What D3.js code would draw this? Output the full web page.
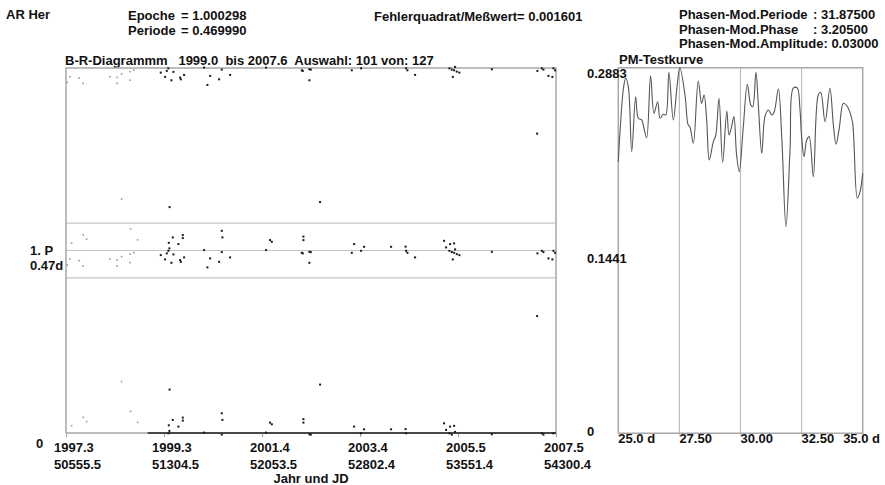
<!DOCTYPE html>
<html><head><meta charset="utf-8">
<script src="https://cdn.jsdelivr.net/npm/d3@7"></script>
<style>
body{margin:0;background:#fff;}
text{font-family:"Liberation Sans",Arial,sans-serif;font-weight:bold;font-size:13px;fill:#111;white-space:pre;}
</style></head><body>
<svg id="c" width="885" height="485"></svg>
<script>
// ---- B-R diagram data (year, O-C in periods) ----
const years=[1997.327,1997.383,1997.419,1997.577,1997.660,1997.660,1997.731,1998.216,1998.368,1998.368,1998.459,1998.632,1998.632,1998.647,1998.715,1998.793,1998.459,
1999.271,1999.361,1999.396,1999.429,1999.450,1999.438,1999.521,1999.534,1999.492,1999.638,1999.729,1999.729,1999.673,1999.688,1999.756,1999.454,
2000.173,2000.298,2000.241,2000.485,2000.541,2000.554,2000.541,2000.714,2001.463,2001.546,2001.582,2002.240,2002.240,2002.227,2002.206,2002.364,2002.364,2002.394,2002.587,
2003.247,2003.295,2003.441,2003.503,2004.065,2004.377,2004.367,2004.405,2004.565,2005.168,2005.210,2005.293,2005.377,2005.279,2005.329,2005.377,2005.397,2005.433,2005.487,2005.350,
2006.162,2007.111,2007.202,2007.236,2007.340,2007.423,2007.444,2007.479,2007.105];
const oc=[-0.0795,-0.0482,0.0395,-0.0559,0.0849,-0.0849,0.0614,-0.0482,-0.0521,-0.0849,-0.0340,-0.0208,-0.0668,0.1178,-0.0121,0.0575,0.2811,
-0.0247,-0.0482,-0.0153,-0.0011,0.0121,0.0427,0.0723,-0.0208,-0.0668,0.0356,0.0849,0.0685,-0.0521,-0.0614,-0.0373,0.2384,
0.0027,-0.0427,-0.0921,-0.0614,0.1085,0.0723,-0.0082,-0.0373,0.0027,0.0575,0.0482,0.0767,0.0575,-0.0153,-0.0121,-0.0066,-0.0668,-0.0082,0.2658,
-0.0121,0.0356,-0.0011,0.0208,0.0208,-0.0011,0.0219,-0.0121,-0.0373,0.0537,0.0175,0.0356,0.0395,-0.0011,-0.0082,-0.0121,0.0066,-0.0192,-0.0247,-0.0482,
-0.0066,-0.0153,-0.0011,-0.0082,-0.0427,-0.0482,-0.0011,-0.0121,-0.3589];
const selStart=1999.0, selEnd=2007.6;
const yearDomain=[1997.3,2007.5];
const xTickYears=["1997.3","1999.3","2001.4","2003.4","2005.5","2007.5"];
const xTickJD=["50555.5","51304.5","52053.5","52802.4","53551.4","54300.4"];
const bandHalf=0.15;
// ---- PM test curve ----
const pmPeriod=[25.00,25.07,25.21,25.30,25.41,25.55,25.71,25.82,25.96,26.02,26.16,26.32,26.46,26.61,26.71,26.84,26.94,27.07,27.25,27.41,27.52,27.73,27.86,27.93,28.07,28.27,28.41,28.51,28.62,28.72,28.89,28.99,29.12,29.27,29.44,29.53,29.62,29.73,29.84,29.95,30.11,30.28,30.42,30.50,30.63,30.73,30.87,31.00,31.14,31.28,31.38,31.55,31.69,31.86,32.03,32.16,32.32,32.43,32.50,32.60,32.71,32.81,32.98,33.18,33.28,33.46,33.66,33.80,33.91,34.04,34.21,34.35,34.48,34.59,34.78,34.89,35.00];
const pmValue=[0.2142,0.2378,0.2721,0.2800,0.2733,0.2221,0.2654,0.2484,0.2471,0.2431,0.2331,0.2820,0.2524,0.2615,0.2484,0.2516,0.2510,0.2847,0.2471,0.2747,0.2883,0.2668,0.2431,0.2418,0.2287,0.2778,0.2602,0.2668,0.2457,0.2155,0.2300,0.2352,0.2642,0.2137,0.2542,0.2352,0.2405,0.2497,0.2195,0.2063,0.2405,0.2752,0.2589,0.2576,0.2847,0.2589,0.2208,0.2497,0.2550,0.2510,0.2536,0.2715,0.2326,0.1629,0.2248,0.2721,0.2725,0.2563,0.2339,0.2181,0.2313,0.2339,0.2024,0.2668,0.2689,0.2457,0.2721,0.2431,0.2279,0.2405,0.2602,0.2583,0.2531,0.2445,0.1853,0.1905,0.2050];
const pmTicks=[25,27.5,30,32.5,35];
const pmTickLabels=["25.0 d","27.50","30.00","32.50","35.0 d"];
const pmYTicks=[0,0.1441,0.2883];
const pmYLabels=["0","0.1441","0.2883"];
const headerLeftLabels=["Epoche","Periode"];
const headerLeftValues=["= 1.000298","= 0.469990"];
const pmParamLabels=["Phasen-Mod.Periode","Phasen-Mod.Phase"];
const pmParamValues=[": 31.87500",": 3.20500"];

const svg=d3.select("#c");
function txt(x,y,s,anchor){return svg.append("text").attr("x",x).attr("y",y).attr("text-anchor",anchor||"start").text(s);}

// headers
txt(6,19,"AR Her");
[20,34.5].forEach((yy,i)=>{txt(128,yy,headerLeftLabels[i]);txt(181,yy,headerLeftValues[i]);});
txt(374,21,"Fehlerquadrat/Meßwert= 0.001601");
[18.5,33.5].forEach((yy,i)=>{txt(679,yy,pmParamLabels[i]);txt(813,yy,pmParamValues[i]);});
txt(679,48,"Phasen-Mod.Amplitude: 0.03000");
txt(65,64.5,"B-R-Diagrammm   1999.0  bis 2007.6  Auswahl: 101 von: 127");
txt(619,63.5,"PM-Testkurve");

// ---- left plot ----
const L={x0:66,x1:556,y0:68,y1:433};
const x=d3.scaleLinear().domain(yearDomain).range([L.x0,L.x1]);
const y=d3.scaleLinear().domain([0,2]).range([L.y1,L.y0]);
const grey="#a8a8a8";
svg.selectAll(".band").data([1-bandHalf,1,1+bandHalf]).enter().append("line")
 .attr("x1",L.x0).attr("x2",L.x1).attr("y1",d=>y(d)).attr("y2",d=>y(d))
 .attr("stroke","#c4c4c4").attr("stroke-width",1.2);
svg.append("path").attr("d",`M${L.x0},${L.y1}V${L.y0}H${L.x1}V${L.y1}H${L.x0}`)
 .attr("fill","none").attr("stroke",grey).attr("stroke-width",1.5);
const tv=d3.range(xTickYears.length).map(i=>yearDomain[0]+i*(yearDomain[1]-yearDomain[0])/(xTickYears.length-1));
const gx=svg.append("g").attr("transform",`translate(0,${L.y1})`)
 .call(d3.axisBottom(x).tickValues(tv).tickSize(4).tickFormat(""));
gx.select(".domain").remove();
gx.selectAll("line").attr("stroke",grey).attr("stroke-width",1.2);
svg.append("line").attr("x1",x(selStart)).attr("x2",x(Math.min(selEnd,yearDomain[1])))
 .attr("y1",L.y1).attr("y2",L.y1).attr("stroke","#222").attr("stroke-width",1.6);
tv.forEach((v,i)=>{txt(x(v)-12,452,xTickYears[i]);txt(x(v)-12,468.5,xTickJD[i]);});
txt(311,483,"Jahr und JD","middle");
txt(36,448,"0");
txt(30,255,"1. P");
txt(30,269.5,"0.47d");
const pts=[];
years.forEach((yr,i)=>{[0,1,2].forEach(k=>{const v=oc[i]+k; if(v>=-0.012&&v<=2.012) pts.push({yr,v,sel:yr>=selStart});});});
svg.selectAll(".pt").data(pts).enter().append("rect")
 .attr("x",d=>x(d.yr)-0.9).attr("y",d=>y(d.v)-0.9)
 .attr("width",d=>d.sel?2:1.6).attr("height",d=>d.sel?2:1.6)
 .attr("fill",d=>d.sel?"#1a1a1a":"#9a9a9a");

// ---- right plot ----
const R={x0:618.3,x1:862.7,y0:67.7,y1:433.3};
const px=d3.scaleLinear().domain([25,35]).range([R.x0,R.x1]);
const py=d3.scaleLinear().domain([0,0.2883]).range([R.y1,R.y0]);
svg.selectAll(".grid").data(pmTicks.slice(1,-1)).enter().append("line")
 .attr("x1",d=>px(d)).attr("x2",d=>px(d)).attr("y1",R.y0).attr("y2",R.y1)
 .attr("stroke","#bdbdbd").attr("stroke-width",1.2);
svg.append("path").attr("d",`M${R.x0},${R.y1}V${R.y0}H${R.x1}V${R.y1}H${R.x0}`)
 .attr("fill","none").attr("stroke",grey).attr("stroke-width",1.5);
const gpx=svg.append("g").attr("transform",`translate(0,${R.y1})`)
 .call(d3.axisBottom(px).tickValues(pmTicks).tickSize(3).tickFormat(""));
gpx.select(".domain").remove();
gpx.selectAll("line").attr("stroke",grey);
pmTicks.forEach((t,i)=>{ if(i<pmTicks.length-1) txt(px(t),443,pmTickLabels[i]); else txt(880,443,pmTickLabels[i],"end");});
const yOff=[3,12,10.5];
pmYTicks.forEach((t,i)=>{ txt(587, py(t)+yOff[i], pmYLabels[i]);});
const line=d3.line().x((d,i)=>px(pmPeriod[i])).y(d=>py(d)).curve(d3.curveCatmullRom.alpha(0.5));
svg.append("path").datum(pmValue).attr("d",line).attr("fill","none").attr("stroke","#555").attr("stroke-width",1.1);
</script></body></html>
